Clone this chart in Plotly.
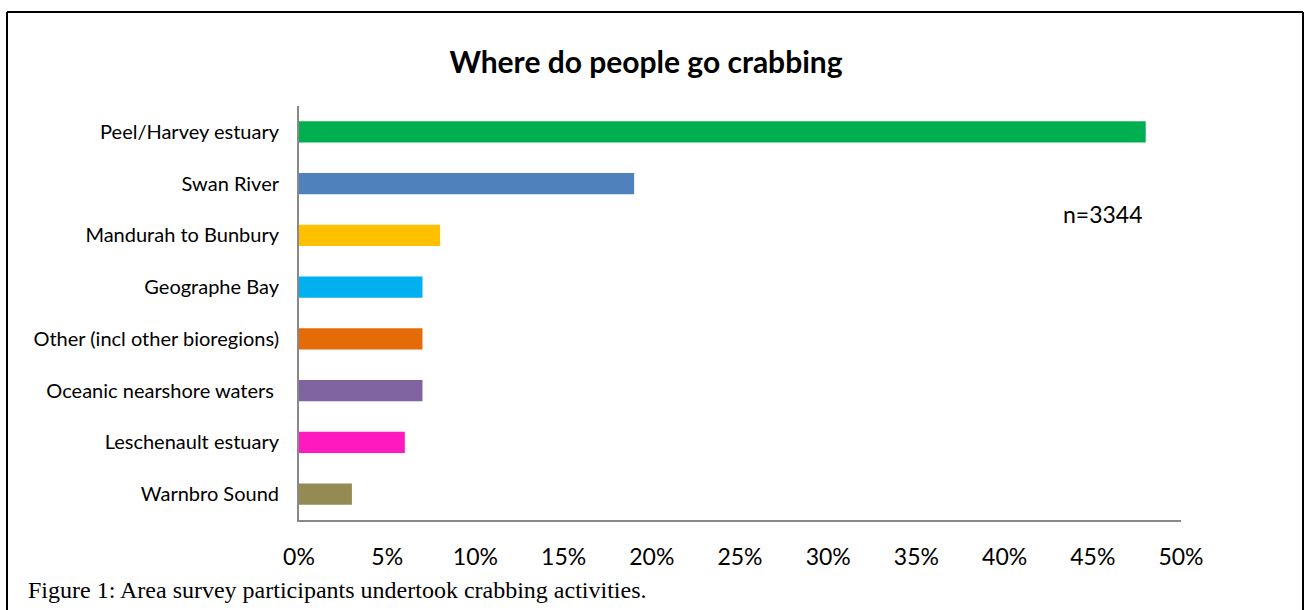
import plotly.graph_objects as go

# Survey results: share of respondents by crabbing location
locations = [
    "Peel/Harvey estuary",
    "Swan River",
    "Mandurah to Bunbury",
    "Geographe Bay",
    "Other (incl other bioregions)",
    "Oceanic nearshore waters\u00a0",
    "Leschenault estuary",
    "Warnbro Sound",
]
share_pct = [48, 19, 8, 7, 7, 7, 6, 3]
bar_colors = [
    "#00B050", "#4F81BD", "#FFC000", "#00B0F0",
    "#E36C09", "#8064A2", "#FF19BE", "#948A54",
]
tick_values = [0, 5, 10, 15, 20, 25, 30, 35, 40, 45, 50]
tick_labels = [f"{v}%" for v in tick_values]

FONT = "Lato"

# Plot area in pixels
L, R, T, B = 299, 1181, 106, 520
PW, PH = R - L, B - T


def px_x(x):
    return (x - L) / PW


def px_y(y):
    return (B - y) / PH


fig = go.Figure(
    go.Bar(
        x=share_pct,
        y=locations,
        orientation="h",
        marker=dict(color=bar_colors, line=dict(width=0)),
        width=0.41,
    )
)

fig.update_layout(
    width=1305,
    height=610,
    margin=dict(l=L, r=1305 - R, t=T, b=610 - B),
    paper_bgcolor="white",
    plot_bgcolor="white",
    showlegend=False,
    font=dict(family=FONT, color="#000000"),
    title=dict(
        text="<b>Where do people go crabbing</b>",
        x=0.495, xref="container", xanchor="center",
        y=0.897, yref="container", yanchor="middle",
        font=dict(family=FONT, size=30, color="#000000"),
    ),
)

fig.update_xaxes(
    range=[0, 50],
    tickvals=tick_values,
    ticktext=tick_labels,
    showgrid=False,
    zeroline=False,
    showline=True,
    linecolor="#898989",
    linewidth=2,
    ticks="",
    ticklabelstandoff=15,
    tickfont=dict(family=FONT, size=23, color="#000000"),
    fixedrange=True,
)
fig.update_yaxes(
    categoryorder="array",
    categoryarray=locations[::-1],
    autorange=False,
    range=[-0.5, len(locations) - 0.5],
    showgrid=False,
    zeroline=False,
    showline=True,
    linecolor="#898989",
    linewidth=2,
    ticks="",
    ticklabelstandoff=14,
    tickfont=dict(family=FONT, size=20, color="#000000"),
    fixedrange=True,
)

# Sample size note
fig.add_annotation(
    text="n=3344", xref="paper", yref="paper",
    x=px_x(1103), y=px_y(214), xanchor="center", yanchor="middle",
    showarrow=False, font=dict(family=FONT, size=23, color="#000000"),
)

# Caption below the chart
fig.add_annotation(
    text="Figure 1: Area survey participants undertook crabbing activities.",
    xref="paper", yref="paper",
    x=px_x(26), y=px_y(590),
    xanchor="left", yanchor="middle", showarrow=False,
    font=dict(family="Liberation Serif", size=24, color="#000000"),
)

# Outer frame (open at the bottom)
fx0, fx1 = px_x(7), px_x(1303)
ftop, fbot = px_y(12), px_y(615)
for x0, y0, x1, y1 in [
    (fx0, fbot, fx0, ftop),
    (fx0, ftop, fx1, ftop),
    (fx1, ftop, fx1, fbot),
]:
    fig.add_shape(type="line", xref="paper", yref="paper",
                  x0=x0, y0=y0, x1=x1, y1=y1,
                  line=dict(color="#000000", width=2))

fig.write_html("out.html")
